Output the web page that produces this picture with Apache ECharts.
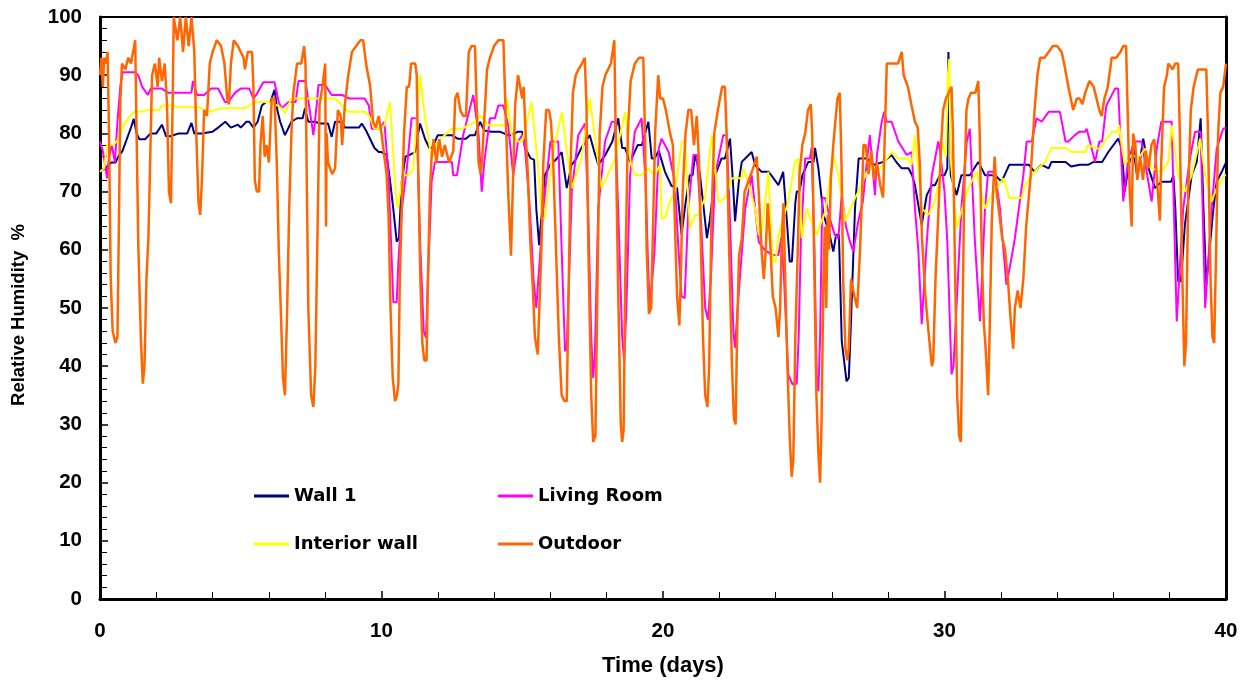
<!DOCTYPE html>
<html>
<head>
<meta charset="utf-8">
<script src="https://cdn.jsdelivr.net/npm/echarts@6/dist/echarts.min.js"></script>
<style>
html,body{margin:0;padding:0;background:#fff;}
#chart{width:1249px;height:682px;}
</style>
</head>
<body>
<div id="chart"></div>
<script>
// ---- Data: [time (days), relative humidity %] ----
const seriesNames = ['Wall 1', 'Living Room', 'Interior wall', 'Outdoor'];
const xTicks = [0, 10, 20, 30, 40];
const yTicks = [0, 10, 20, 30, 40, 50, 60, 70, 80, 90, 100];

const wall1 = [[0,73.5],[0.2,74],[0.4,75],[0.55,75],[0.65,76],[0.8,77],[0.95,79],[1.1,81],[1.2,82.5],[1.3,80],[1.4,79],[1.6,79],[1.8,80],[2,80],[2.2,81.5],[2.35,79.5],[2.5,79.5],[2.8,80],[3.1,80],[3.25,81.8],[3.35,80],[3.6,80],[4,80.3],[4.2,81],[4.45,82],[4.65,81],[4.9,81.5],[5,81],[5.2,82],[5.3,82],[5.45,81],[5.6,82],[5.75,84.8],[5.9,85.4],[6.05,85.4],[6.2,87.5],[6.3,84],[6.4,82],[6.57,79.7],[6.8,82],[7,82.6],[7.2,82.6],[7.28,84.3],[7.4,82],[7.64,82],[7.8,81.7],[8.1,81.7],[8.23,79.4],[8.35,82],[8.6,82],[8.7,81],[9,81],[9.2,81],[9.3,81.7],[9.45,80.5],[9.6,79],[9.75,77.5],[9.9,76.8],[10,76.8],[10.18,76.3],[10.3,72],[10.42,67],[10.54,61.4],[10.62,62],[10.72,71.7],[10.85,76],[11,76.3],[11.19,76.8],[11.3,80],[11.37,81.7],[11.55,79],[11.7,77.5],[11.8,77.5],[12,79.7],[12.3,79.7],[12.5,79.7],[12.7,79.1],[13,79.1],[13.14,79.7],[13.32,79.7],[13.5,82],[13.65,80.5],[13.9,80.3],[14.2,80.3],[14.5,79.7],[14.6,79.7],[14.85,80.3],[15,80.3],[15.1,77.5],[15.3,75.7],[15.42,75.5],[15.5,67],[15.6,60.8],[15.65,61],[15.8,72.8],[16,74.6],[16.2,75.5],[16.4,76.8],[16.58,70.6],[16.75,74.6],[16.9,75.5],[17.1,77.5],[17.4,79.7],[17.55,77],[17.7,74.6],[17.95,76.3],[18.2,78.6],[18.41,82.6],[18.55,77.5],[18.65,77.5],[18.83,75.1],[19.1,78],[19.25,78],[19.48,82],[19.6,75.7],[19.7,75.7],[19.85,77],[20.07,73.4],[20.3,71],[20.5,70.6],[20.66,62.6],[20.8,68],[20.95,72.8],[21.05,72.8],[21.14,76.3],[21.3,73.4],[21.45,67],[21.56,62],[21.66,65],[21.85,72.8],[22.08,75.7],[22.2,75.7],[22.38,79.1],[22.48,72],[22.56,64.9],[22.7,72],[22.8,75.1],[23.15,76.8],[23.27,74.6],[23.5,73.4],[23.75,73.4],[23.85,72.8],[24.1,71.1],[24.27,73.4],[24.4,65],[24.5,58],[24.58,58],[24.7,68],[24.75,70],[24.85,70],[24.95,72.8],[25.16,75.1],[25.35,75.1],[25.4,77.5],[25.52,74],[25.7,66],[25.9,63],[26.05,59.7],[26.15,62.6],[26.25,62.6],[26.35,44.3],[26.52,37.4],[26.6,38],[26.65,44],[26.82,67],[26.95,75.7],[27.24,75.7],[27.5,74.6],[27.83,75.1],[28.12,76.3],[28.3,75],[28.48,74],[28.72,74],[28.85,72.8],[28.95,71.1],[29.19,64.3],[29.37,69.4],[29.55,71.1],[29.66,71.1],[29.84,72.8],[30,72.8],[30.1,74],[30.14,94],[30.18,94],[30.22,72.8],[30.43,69.4],[30.6,72.8],[30.9,72.8],[31.2,75.1],[31.44,72.8],[31.8,72.8],[32.03,71.7],[32.3,74.6],[32.7,74.6],[33,74.6],[33.2,73.4],[33.45,74.6],[33.7,74],[33.8,75.1],[34.3,75.1],[34.5,74.3],[34.8,74.6],[35.1,74.6],[35.3,75.1],[35.6,75.1],[35.82,76.8],[36.17,79.1],[36.3,77.4],[36.4,70],[36.55,74.6],[36.7,78],[36.85,72.3],[37.06,79.1],[37.25,74],[37.48,70.6],[37.7,71.7],[38.05,71.7],[38.13,72.8],[38.2,67],[38.3,54.6],[38.4,54.6],[38.54,64.3],[38.78,72.8],[38.96,75.1],[39.1,82.6],[39.2,67],[39.3,54],[39.55,67],[39.67,71.7],[39.85,73.4],[40,75]];

const livingRoom = [[0,78.6],[0.1,77],[0.2,74],[0.25,72.3],[0.32,76],[0.42,78],[0.53,75],[0.62,82],[0.72,88],[0.8,90.5],[1,90.5],[1.24,90.5],[1.36,90],[1.5,88],[1.7,86.6],[1.8,87.7],[2.2,87.7],[2.4,87],[2.6,87],[2.9,87],[3.25,87],[3.3,89],[3.45,86.6],[3.7,86.6],[3.95,87.7],[4.2,87.7],[4.44,85.4],[4.56,85.4],[4.8,87],[5,87.7],[5.3,87.7],[5.45,86],[5.55,86.6],[5.8,88.8],[6.2,88.8],[6.35,85.4],[6.45,84.3],[6.7,85.4],[6.95,85.4],[7.05,89],[7.3,89],[7.45,84],[7.58,79.7],[7.7,85],[7.76,88.3],[8,88.3],[8.23,86.6],[8.6,86.6],[8.85,86],[9.4,86],[9.55,84.8],[9.65,80.8],[9.95,80.8],[10.1,82],[10.25,72.8],[10.35,60],[10.42,51],[10.54,51],[10.6,58],[10.72,67],[10.9,74],[11.07,82.6],[11.25,82.6],[11.37,61.4],[11.5,46],[11.58,44.9],[11.65,55],[11.78,71.7],[11.9,75.1],[12.5,75.1],[12.55,72.8],[12.68,72.8],[12.9,79.7],[13.14,84.3],[13.26,86.6],[13.45,79.7],[13.56,70],[13.65,75],[13.85,82.6],[14.03,82.6],[14.15,84.8],[14.33,84.8],[14.5,81.4],[14.68,72.8],[14.85,78.6],[15,79.7],[15.1,77.4],[15.27,67.1],[15.4,55],[15.5,50],[15.57,50],[15.75,67.1],[16,78.6],[16.28,78.6],[16.4,60],[16.52,42.6],[16.58,43],[16.76,70],[16.99,79.7],[17.23,81.7],[17.35,65],[17.45,45],[17.52,38],[17.58,42],[17.7,67.1],[17.94,78.6],[18.18,82],[18.3,82],[18.42,65],[18.55,45],[18.62,40.9],[18.7,50],[18.83,72.8],[19,80.3],[19.24,82.6],[19.38,72],[19.48,55.7],[19.54,50],[19.7,60],[19.85,77.4],[19.95,79.1],[20.2,76.8],[20.42,71.7],[20.55,60],[20.66,52],[20.77,51.7],[20.9,67],[21.08,76.3],[21.2,76.3],[21.35,65],[21.5,50],[21.6,48],[21.7,55],[21.85,72.8],[22.14,79.7],[22.26,79.7],[22.38,65],[22.5,46],[22.56,43.2],[22.65,50],[22.92,67.1],[23.15,72.8],[23.4,61.4],[23.6,60],[23.9,59.1],[24.1,59.1],[24.2,62],[24.3,55],[24.45,38.6],[24.6,36.9],[24.75,37],[24.82,45],[24.9,62],[25.05,75.7],[25.22,75.7],[25.28,77.5],[25.38,60],[25.46,38],[25.52,35.7],[25.58,45],[25.66,68.9],[25.76,68.9],[25.95,65],[26.1,62.6],[26.23,62],[26.35,69.4],[26.5,64],[26.64,61.4],[26.76,59.7],[26.94,65],[27.1,68.3],[27.24,75.1],[27.35,79.7],[27.53,69.4],[27.6,76.3],[27.77,82],[27.86,83.7],[27.95,82],[28.12,82],[28.36,78.6],[28.66,76.3],[28.83,76.8],[28.95,67.1],[29.07,60],[29.19,47.2],[29.25,47.2],[29.37,61.4],[29.55,72.8],[29.78,78.6],[29.84,77],[30,70],[30.1,61.4],[30.25,38.6],[30.32,40],[30.6,67.1],[30.79,78.6],[30.9,80.8],[30.96,80.8],[31.08,61.4],[31.26,47.7],[31.44,67.1],[31.55,73.4],[31.79,73.4],[31.97,67.1],[32.2,54],[32.38,58.6],[32.5,62],[32.8,72.8],[32.92,78.6],[33.1,78.6],[33.27,82.6],[33.45,82],[33.7,83.7],[34.1,83.7],[34.3,78.6],[34.4,78.6],[34.63,79.7],[34.8,80.3],[35,80.3],[35.05,80.8],[35.35,75.1],[35.5,78.6],[35.6,78.6],[35.75,84.8],[35.82,84.8],[36.06,87.7],[36.17,87.7],[36.35,68.3],[36.4,68.3],[36.53,75.7],[36.77,78.6],[37,78.6],[37.36,68.3],[37.54,77.4],[37.7,82],[38.07,82],[38.25,47.7],[38.3,47.7],[38.48,67.1],[38.72,75.7],[38.9,80.3],[39.1,80.3],[39.26,50],[39.3,50],[39.49,67.1],[39.67,77.4],[39.9,80.8],[40,81]];

const interiorWall = [[0,73.4],[0.15,74],[0.25,78],[0.45,78],[0.6,78.6],[0.9,82],[1.2,83.7],[1.45,83.7],[1.7,84],[2.1,84],[2.2,84.8],[2.55,84.8],[2.8,84.5],[3.5,84.5],[3.85,83.7],[4.3,84.3],[4.8,84.3],[5.15,84.3],[5.5,85.4],[6,85.4],[6.3,84.8],[6.45,84.3],[6.57,83.5],[6.8,86],[7.5,86],[8.35,86],[8.6,84.8],[8.82,83.7],[9.4,83.7],[9.55,83.1],[9.75,80.8],[9.95,80.8],[10.1,81.4],[10.3,85.4],[10.35,85.4],[10.5,70],[10.58,67.1],[10.75,72.8],[10.95,72.8],[11.13,74],[11.25,82.6],[11.37,90],[11.55,82.6],[11.78,75.7],[12,78.6],[12.5,80.8],[12.85,80.8],[13.32,82],[13.5,83.1],[13.8,81.4],[14.4,81.4],[14.45,86],[14.63,79.7],[14.86,78.6],[15,78.6],[15.33,85.4],[15.4,85.4],[15.55,75],[15.69,65.4],[15.8,65.4],[16.05,75.7],[16.4,83.7],[16.76,70.6],[17.1,75.7],[17.4,86],[17.82,70.6],[18.3,75.7],[18.65,83.7],[18.85,75],[19,72.8],[19.24,72.8],[19.48,74],[19.7,72.8],[19.9,74.6],[19.95,65.4],[20.07,65.4],[20.25,68.3],[20.43,70],[20.67,78.6],[20.78,78.6],[20.96,63.7],[21.14,66],[21.25,66],[21.49,68.9],[21.73,79.7],[21.97,68.3],[22.08,68.3],[22.26,69.4],[22.44,72.3],[22.8,72.3],[22.85,74],[23,72],[23.27,67.1],[23.4,62.6],[23.5,62.6],[23.74,73.4],[23.9,58],[24,58],[24.1,62.6],[24.45,68.3],[24.69,75.1],[24.8,75.7],[24.93,62],[25.1,67.1],[25.46,62.6],[25.76,66.5],[26.05,76.3],[26.23,72.8],[26.47,64.9],[26.82,68.9],[26.94,70],[27.24,73.4],[27.35,74],[27.7,74],[28.12,76.8],[28.36,75.7],[28.72,75.7],[28.83,74.6],[28.95,79.7],[29.19,67.1],[29.43,66],[29.66,68.3],[29.84,72.8],[29.9,78.6],[30.05,76],[30.12,90],[30.17,92.8],[30.21,76],[30.27,72.8],[30.43,63.7],[30.67,67.8],[30.84,70.6],[31.14,73.4],[31.44,67.1],[31.67,69.4],[32.1,72.3],[32.3,68.9],[32.74,68.9],[32.86,71.1],[33.2,73.4],[33.57,75.1],[33.8,77.5],[34.3,77.5],[34.5,76.8],[35,76.8],[35.1,78],[35.4,77.4],[35.5,77.4],[35.7,78.6],[35.94,80.3],[36.17,80.3],[36.2,81.4],[36.4,74.6],[36.65,76.3],[36.89,75.7],[37.12,77.4],[37.36,74],[37.7,73.4],[37.95,75.1],[38.07,81.4],[38.3,72.8],[38.54,70],[38.78,72.8],[39.08,79.1],[39.26,72.8],[39.49,68.3],[39.67,70.6],[39.96,72.8],[40,72.8]];

const outdoor = [[0,90],[0.05,93],[0.1,88],[0.15,93],[0.22,92],[0.27,94],[0.32,80],[0.38,55],[0.45,46],[0.55,44],[0.62,45],[0.66,60],[0.72,85],[0.78,92],[0.9,91],[1,93],[1.1,92],[1.25,96],[1.3,80],[1.36,61],[1.45,45],[1.52,37],[1.58,40],[1.65,55],[1.72,62],[1.78,75],[1.85,90],[1.95,92],[2.05,88],[2.1,93],[2.2,89],[2.3,92],[2.38,85],[2.45,70],[2.52,68],[2.58,85],[2.62,100],[2.75,96],[2.85,100],[2.95,94],[3.05,100],[3.15,95],[3.25,100],[3.35,94],[3.42,80],[3.5,68],[3.56,66],[3.62,72],[3.7,84],[3.8,83],[3.9,92],[4,94],[4.15,96],[4.3,95],[4.42,92],[4.52,86],[4.58,85],[4.65,92],[4.75,96],[4.9,95],[5,94],[5.1,93],[5.15,91],[5.25,94],[5.4,94],[5.45,88],[5.5,72],[5.57,70],[5.65,70],[5.7,78],[5.78,83],[5.85,76],[5.92,78],[6,75],[6.1,86],[6.2,86],[6.28,75],[6.35,60],[6.42,50],[6.5,38],[6.57,35],[6.65,50],[6.72,67],[6.8,80],[6.87,87],[7,92],[7.15,92],[7.25,95],[7.3,92],[7.35,70],[7.4,50],[7.5,35],[7.58,33],[7.65,40],[7.72,61],[7.8,85],[7.9,88],[8,92],[8.03,64],[8.05,80],[8.1,75],[8.25,73],[8.35,74],[8.45,84],[8.55,83],[8.6,78],[8.7,85],[8.82,90],[8.95,94],[9.1,95],[9.25,96],[9.35,96],[9.45,92],[9.6,88],[9.7,82],[9.8,81],[9.9,83],[10,80],[10.1,76],[10.18,73],[10.25,66],[10.32,50],[10.4,38],[10.48,34],[10.55,35],[10.6,37],[10.65,55],[10.72,67],[10.8,80],[10.9,88],[10.98,88],[11.05,92],[11.2,92],[11.25,90],[11.3,75],[11.38,55],[11.45,44],[11.52,41],[11.6,41],[11.65,55],[11.72,70],[11.78,76],[11.85,79],[11.95,75],[12.05,79],[12.15,76],[12.25,78],[12.4,75],[12.55,77],[12.62,86],[12.7,87],[12.8,84],[12.9,83],[13,83],[13.1,94],[13.2,95],[13.32,95],[13.38,85],[13.45,75],[13.52,73],[13.58,76],[13.68,85],[13.75,91],[13.85,93],[14,95],[14.15,96],[14.33,96],[14.4,85],[14.5,70],[14.6,59],[14.66,70],[14.75,85],[14.85,90],[14.9,90],[15,86],[15.05,88],[15.12,80],[15.2,73],[15.28,62],[15.38,53],[15.45,45],[15.55,42],[15.62,42],[15.68,60],[15.75,75],[15.85,84],[15.95,84],[16.02,82],[16.1,75],[16.2,60],[16.3,45],[16.4,35],[16.5,34],[16.58,34],[16.64,50],[16.72,75],[16.8,87],[16.9,90],[17,91],[17.12,92],[17.22,93],[17.28,85],[17.35,60],[17.45,35],[17.52,27],[17.6,28],[17.66,50],[17.75,80],[17.85,88],[17.95,90],[18.05,91],[18.15,92],[18.27,96],[18.32,80],[18.4,55],[18.5,30],[18.55,27],[18.6,29],[18.66,55],[18.75,80],[18.85,89],[19,92],[19.15,93],[19.3,93],[19.36,80],[19.42,60],[19.5,49],[19.58,50],[19.65,65],[19.72,80],[19.83,90],[19.9,86],[20,86],[20.1,84],[20.25,80],[20.35,78],[20.42,65],[20.5,52],[20.58,47],[20.63,55],[20.7,70],[20.8,80],[20.9,84],[21,84],[21.1,78],[21.2,83],[21.28,75],[21.35,60],[21.42,45],[21.5,35],[21.58,33],[21.64,40],[21.72,65],[21.82,80],[21.95,84],[22.1,88],[22.2,88],[22.26,80],[22.35,60],[22.45,40],[22.52,31],[22.58,30],[22.63,45],[22.7,59],[22.8,62],[22.9,70],[23.05,72],[23.2,74],[23.33,76],[23.4,70],[23.5,60],[23.58,55],[23.65,60],[23.72,68],[23.8,62],[23.9,52],[24,50],[24.1,45],[24.16,50],[24.22,62],[24.28,68],[24.34,55],[24.42,40],[24.5,28],[24.57,21],[24.63,24],[24.7,45],[24.8,62],[24.85,73],[24.95,78],[25.05,80],[25.15,84],[25.25,85],[25.3,80],[25.38,55],[25.45,35],[25.52,25],[25.58,20],[25.63,30],[25.7,55],[25.75,64],[25.8,50],[25.85,66],[25.9,60],[25.96,72],[26.05,78],[26.12,82],[26.2,86],[26.28,87],[26.34,75],[26.4,55],[26.48,43],[26.55,41],[26.6,43],[26.68,55],[26.8,52],[26.9,50],[27,60],[27.06,68],[27.12,78],[27.2,78],[27.3,73],[27.4,77],[27.5,72],[27.6,75],[27.72,71],[27.82,69],[27.88,80],[27.95,92],[28.05,92],[28.2,92],[28.35,92],[28.48,94],[28.55,90],[28.7,88],[28.82,85],[28.95,82],[29.05,81],[29.12,75],[29.2,62],[29.32,52],[29.45,45],[29.55,40],[29.6,41],[29.68,55],[29.78,66],[29.88,78],[29.95,84],[30.05,86],[30.15,87],[30.25,88],[30.3,80],[30.38,55],[30.45,35],[30.52,28],[30.58,27],[30.62,40],[30.7,70],[30.78,84],[30.85,86],[30.95,87],[31.1,87],[31.2,89],[31.25,80],[31.32,60],[31.4,47],[31.45,44],[31.55,35],[31.6,45],[31.68,65],[31.78,76],[31.85,70],[31.95,66],[32.05,62],[32.15,60],[32.25,55],[32.35,48],[32.44,43],[32.5,50],[32.6,53],[32.7,50],[32.8,55],[32.9,64],[33.05,72],[33.2,84],[33.3,90],[33.4,93],[33.55,93],[33.7,94],[33.85,95],[34,95],[34.16,94],[34.25,92],[34.4,88],[34.57,84],[34.7,86],[34.8,86],[34.9,85],[35,87],[35.15,89],[35.3,88],[35.4,86],[35.5,84],[35.58,83],[35.68,86],[35.8,88],[35.94,93],[36.1,93],[36.25,94],[36.35,95],[36.45,95],[36.5,85],[36.58,70],[36.65,64],[36.7,80],[36.78,78],[36.85,72],[36.95,76],[37.05,72],[37.15,77],[37.25,74],[37.35,78],[37.45,79],[37.55,72],[37.65,65],[37.7,75],[37.8,88],[37.9,90],[37.95,92],[38.1,91],[38.2,92],[38.3,92],[38.36,80],[38.45,55],[38.52,40],[38.58,44],[38.66,70],[38.75,84],[38.85,88],[39,91],[39.15,91],[39.3,91],[39.36,80],[39.45,55],[39.52,45],[39.58,44],[39.65,60],[39.72,80],[39.8,87],[39.9,88],[40,92]];

const colors = ['#000080', '#FF00FF', '#FFFF00', '#FF6600'];
const dataSets = [wall1, livingRoom, interiorWall, outdoor];

const FONT = 'Arial, "Liberation Sans", sans-serif';
const LEGEND_FONT = '"DejaVu Sans", Verdana, sans-serif';
const chart = echarts.init(document.getElementById('chart'), null, {renderer: 'canvas'});

const legendPos = [
  {left: 249, top: 482},
  {left: 493, top: 482},
  {left: 249, top: 530},
  {left: 493, top: 530}
];

const option = {
  animation: false,
  backgroundColor: '#fff',
  grid: {left: 100, right: 23, top: 17, bottom: 80, show: false},
  legend: seriesNames.map((n, i) => ({
    data: [n],
    left: legendPos[i].left,
    top: legendPos[i].top,
    icon: 'rect',
    itemWidth: 35,
    itemHeight: 3,
    selectedMode: false,
    textStyle: {fontFamily: LEGEND_FONT, fontWeight: 'bold', fontSize: 18, color: '#000'}
  })),
  xAxis: [{
    type: 'value', min: 0, max: 40, interval: 10,
    name: 'Time (days)', nameLocation: 'middle', nameGap: 56,
    nameTextStyle: {fontFamily: FONT, fontWeight: 'bold', fontSize: 22, color: '#000'},
    axisLine: {show: true, onZero: false, lineStyle: {color: '#000', width: 3}},
    axisTick: {show: true, inside: true, length: 8, lineStyle: {color: '#000', width: 1.5}},
    minorTick: {show: true, splitNumber: 5, length: 7, lineStyle: {color: '#000', width: 1}},
    axisLabel: {fontFamily: FONT, fontWeight: 'bold', fontSize: 20.5, color: '#000', margin: 22,
      formatter: v => xTicks.includes(v) ? String(v) : ''},
    splitLine: {show: false}
  }, {
    type: 'value', min: 0, max: 40, position: 'top',
    axisLine: {show: true, onZero: false, lineStyle: {color: '#000', width: 2}},
    axisTick: {show: false}, axisLabel: {show: false}, splitLine: {show: false}
  }],
  yAxis: [{
    type: 'value', min: 0, max: 100, interval: 10,
    name: 'Relative Humidity  %', nameLocation: 'middle', nameGap: 72, nameRotate: 90,
    nameTextStyle: {fontFamily: FONT, fontWeight: 'bold', fontSize: 18.5, color: '#000', padding: [0, 14, 0, 0]},
    axisLine: {show: true, onZero: false, lineStyle: {color: '#000', width: 3}},
    axisTick: {show: true, inside: true, length: 8, lineStyle: {color: '#000', width: 1.5}},
    minorTick: {show: true, splitNumber: 5, length: 7, lineStyle: {color: '#000', width: 1}},
    axisLabel: {fontFamily: FONT, fontWeight: 'bold', fontSize: 20.5, color: '#000', margin: 18,
      formatter: v => yTicks.includes(v) ? String(v) : ''},
    splitLine: {show: false}
  }, {
    type: 'value', min: 0, max: 100, position: 'right',
    axisLine: {show: true, onZero: false, lineStyle: {color: '#000', width: 3}},
    axisTick: {show: false}, axisLabel: {show: false}, splitLine: {show: false}
  }],
  series: seriesNames.map((n, i) => ({
    name: n,
    type: 'line',
    data: dataSets[i],
    showSymbol: false,
    symbol: 'none',
    color: colors[i],
    lineStyle: {color: colors[i], width: i === 3 ? 2.5 : 2},
    xAxisIndex: 0, yAxisIndex: 0,
    z: 2 + i
  }))
};
chart.setOption(option);
</script>
</body>
</html>
